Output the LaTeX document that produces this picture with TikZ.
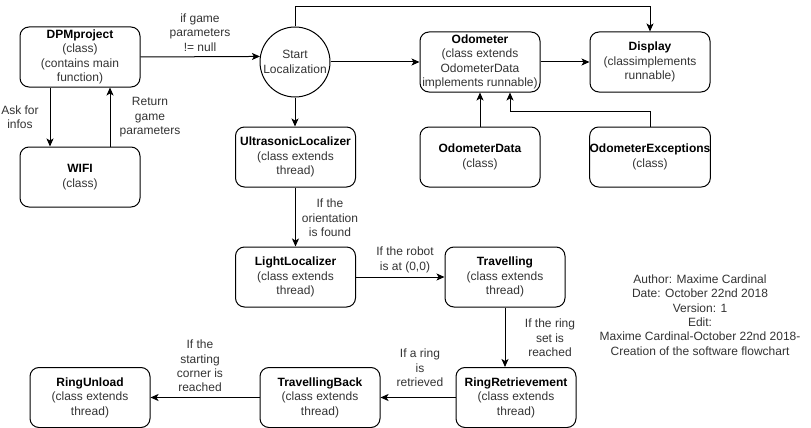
\documentclass[tikz,border=0pt]{standalone}
\usepackage{fontspec}
\setmainfont{Liberation Sans}
\usetikzlibrary{arrows.meta}
\begin{document}
\begin{tikzpicture}[x=1pt,y=-1pt,
  txt/.style={font=\fontsize{12}{14.4}\selectfont, text=black!80},
  box/.style={txt, draw=black, line width=1pt, rounded corners=9pt, minimum width=120pt, minimum height=60pt, align=center, inner sep=0pt},
  circ/.style={txt, draw=black, line width=1pt, circle, minimum size=70pt, align=center, inner sep=0pt},
  lbl/.style={txt, align=center, inner sep=0pt},
  arr/.style={draw=black, line width=1pt, -{Stealth[length=8pt,width=7pt,inset=2pt]}}]
\useasboundingbox (0,0) rectangle (811,428);
\newcommand{\ttl}[1]{\textcolor{black}{\textbf{#1}}}
% nodes
\node[box] (dpm) at (80,57) {\ttl{DPMproject}\\(class)\\(contains main\\function)};
\node[box] (wifi) at (80,177) {\ttl{WIFI}\\(class)};
\node[circ] (start) at (295,62) {Start\\Localization};
\node[box] (odo) at (480,62) {\ttl{Odometer}\\(class extends\\OdometerData\\implements runnable)};
\node[box] (disp) at (650,62) {\ttl{Display}\\(classimplements\\runnable)};
\node[box] (odata) at (480,157) {\ttl{OdometerData}\\(class)};
\node[box] (oexc) at (650,157) {\ttl{OdometerExceptions}\\(class)};
\node[box] (ultra) at (295.5,157) {\ttl{UltrasonicLocalizer}\\(class extends\\thread)};
\node[box] (light) at (295.5,277) {\ttl{LightLocalizer}\\(class extends\\thread)};
\node[box] (trav) at (505,277) {\ttl{Travelling}\\(class extends\\thread)};
\node[box] (ringret) at (516,397.5) {\ttl{RingRetrievement}\\(class extends\\thread)};
\node[box] (travback) at (320,397.5) {\ttl{TravellingBack}\\(class extends\\thread)};
\node[box] (unload) at (90,397.5) {\ttl{RingUnload}\\(class extends\\thread)};
% labels
\node[lbl] (lgame) at (200,32.5) {if game\\parameters\\!= null};
\node[lbl] (lask) at (20,117.5) {Ask for\\infos};
\node[lbl] (lret) at (150,117.5) {Return\\game\\parameters};
\node[lbl] (lorient) at (330,218) {If the\\orientation\\is found};
\node[lbl] (lrobot) at (405,260) {If the robot\\is at (0,0)};
\node[lbl] (lringset) at (550,338) {If the ring\\set is\\reached};
\node[lbl] (laring) at (420,368) {If a ring\\is\\retrieved};
\node[lbl] (lcorner) at (200,366) {If the\\starting\\corner is\\reached};
\node[lbl] (author) at (700,315) {Author: Maxime Cardinal\\Date: October 22nd 2018\\Version: 1\\Edit:\\Maxime Cardinal-October 22nd 2018-\\Creation of the software flowchart};
% connectors
\draw[arr] (dpm.east) -- (start.171.8);
\draw[arr] (start.north) -- ++(0,-20) -| (disp.north);
\draw[arr] (start.east) -- (odo.west);
\draw[arr] (odo.east) -- (disp.west);
\draw[arr] (odata.north) -- (odo.south);
\draw[arr] (oexc.north) -- ++(0,-15) -| ([xshift=30pt]odo.south);
\draw[arr] ([xshift=-30pt]dpm.south) -- ([xshift=-30pt]wifi.north);
\draw[arr] ([xshift=30pt]wifi.north) -- ([xshift=30pt]dpm.south);
\draw[arr] (start.south) -- (start.south |- ultra.north);
\draw[arr] (ultra.south) -- (light.north);
\draw[arr] (light.east) -- (trav.west);
\draw[arr] (trav.south) -- (trav.south |- ringret.north);
\draw[arr] (ringret.west) -- (travback.east);
\draw[arr] (travback.west) -- (unload.east);
\end{tikzpicture}
\end{document}
